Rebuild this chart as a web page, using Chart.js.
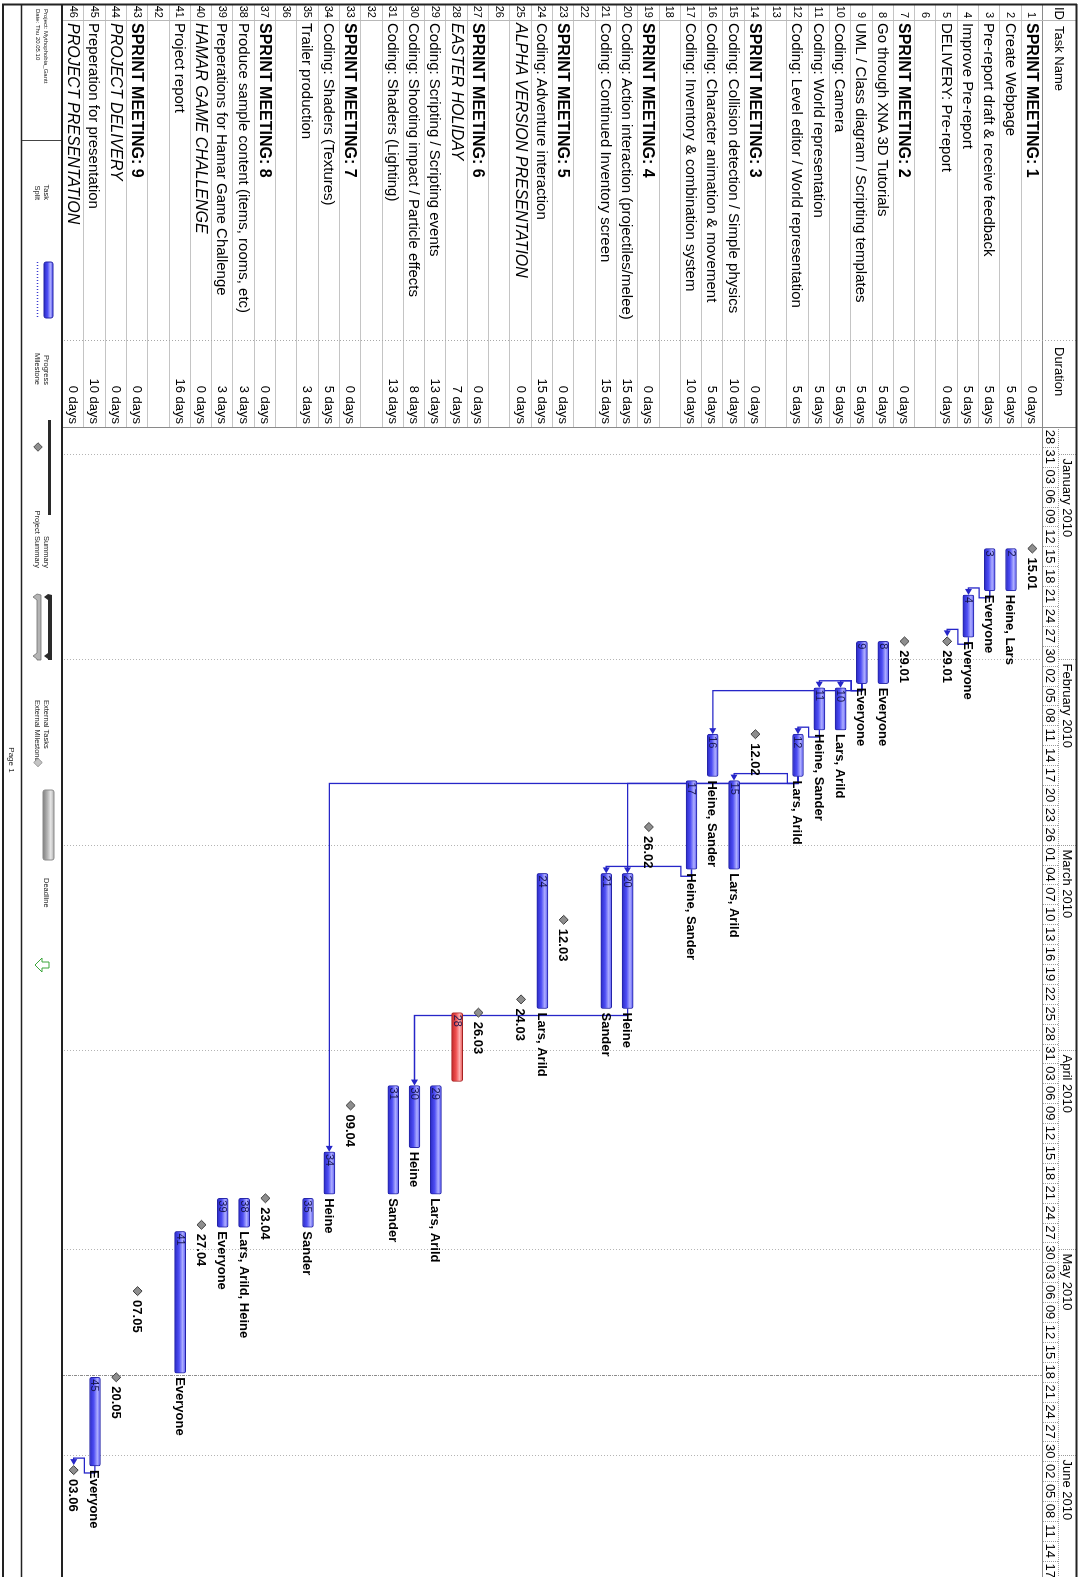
<!DOCTYPE html>
<html>
<head>
<meta charset="utf-8">
<title>Mythophobia_Gantt</title>
<script src="https://cdn.jsdelivr.net/npm/chart.js@4.4.1/dist/chart.umd.min.js"></script>
<style>
  html, body { margin:0; padding:0; background:#fff; }
  body { width:1081px; height:1577px; overflow:hidden; position:relative; }
  /* the printed sheet is landscape; it is turned a quarter clockwise onto the portrait page */
  #sheet { position:absolute; left:0; top:0; width:1577px; height:1081px;
           transform-origin:0 0; transform:translate(1081px,0) rotate(90deg);
           background:#fff; overflow:hidden; }
  #gantt { position:absolute; left:0; top:0; }
  #overlay { position:absolute; left:0; top:0; font-family:"Liberation Sans", Arial, sans-serif; }
</style>
</head>
<body>
<div id="sheet">
  <canvas id="gantt" width="1577" height="1081"></canvas>
  <svg id="overlay" width="1577" height="1081" xmlns="http://www.w3.org/2000/svg"></svg>
</div>
<script>
// ---------------- project data ----------------
const taskIds = [1,2,3,4,5,6,7,8,9,10,11,12,13,14,15,16,17,18,19,20,21,22,23,24,25,26,27,28,29,30,31,32,33,34,35,36,37,38,39,40,41,42,43,44,45,46];

const taskNames = [
  'SPRINT MEETING: 1','Create Webpage','Pre-report draft & receive feedback','Improve Pre-report','DELIVERY: Pre-report','',
  'SPRINT MEETING: 2','Go through XNA 3D Tutorials','UML / Class diagram / Scripting templates','Coding: Camera','Coding: World representation','Coding: Level editor / World representation','',
  'SPRINT MEETING: 3','Coding: Collision detection / Simple physics','Coding: Character animation & movement','Coding: Inventory & combination system','',
  'SPRINT MEETING: 4','Coding: Action interaction (projectiles/melee)','Coding: Continued Inventory screen','',
  'SPRINT MEETING: 5','Coding: Adventure interaction','ALPHA VERSION PRESENTATION','',
  'SPRINT MEETING: 6','EASTER HOLIDAY','Coding: Scripting / Scripting events','Coding: Shooting impact / Particle effects','Coding: Shaders (Lighting)','',
  'SPRINT MEETING: 7','Coding: Shaders (Textures)','Trailer production','',
  'SPRINT MEETING: 8','Produce sample content (items, rooms, etc)','Preperations for Hamar Game Challenge','HAMAR GAME CHALLENGE','Project report','',
  'SPRINT MEETING: 9','PROJECT DELIVERY','Preperation for presentation','PROJECT PRESENTATION'
];

const durationDays = [0,5,5,5,0,null, 0,5,5,5,5,5,null, 0,10,5,10,null, 0,15,15,null, 0,15,0,null,
                      0,7,13,8,13,null, 0,5,3,null, 0,3,3,0,16,null, 0,0,10,0];

const startDates = [
  '2010-01-15','2010-01-15','2010-01-15','2010-01-22','2010-01-29',null,
  '2010-01-29','2010-01-29','2010-01-29','2010-02-05','2010-02-05','2010-02-12',null,
  '2010-02-12','2010-02-19','2010-02-12','2010-02-19',null,
  '2010-02-26','2010-03-05','2010-03-05',null,
  '2010-03-12','2010-03-05','2010-03-24',null,
  '2010-03-26','2010-03-26','2010-04-06','2010-04-06','2010-04-06',null,
  '2010-04-09','2010-04-16','2010-04-23',null,
  '2010-04-23','2010-04-23','2010-04-23','2010-04-27','2010-04-28',null,
  '2010-05-07','2010-05-20','2010-05-20','2010-06-03'
];

const finishDates = [
  '2010-01-15','2010-01-21','2010-01-21','2010-01-28','2010-01-29',null,
  '2010-01-29','2010-02-04','2010-02-04','2010-02-11','2010-02-11','2010-02-18',null,
  '2010-02-12','2010-03-04','2010-02-18','2010-03-04',null,
  '2010-02-26','2010-03-25','2010-03-25',null,
  '2010-03-12','2010-03-25','2010-03-24',null,
  '2010-03-26','2010-04-05','2010-04-22','2010-04-15','2010-04-22',null,
  '2010-04-09','2010-04-22','2010-04-27',null,
  '2010-04-23','2010-04-27','2010-04-27','2010-04-27','2010-05-19',null,
  '2010-05-07','2010-05-20','2010-06-02','2010-06-03'
];

const resourceNames = [
  '','Heine, Lars','Everyone','Everyone','','',
  '','Everyone','Everyone','Lars, Arild','Heine, Sander','Lars, Arild','',
  '','Lars, Arild','Heine, Sander','Heine, Sander','',
  '','Heine','Sander','',
  '','Lars, Arild','','',
  '','','Lars, Arild','Heine','Sander','',
  '','Heine','Sander','',
  '','Lars, Arild, Heine','Everyone','','Everyone','',
  '','','Everyone',''
];

// finish-to-start links [predecessor, successor]
const taskLinks = [[3,4],[4,5],[9,10],[9,11],[9,16],[11,12],[12,15],[12,20],[12,34],[17,21],[20,30],[45,46]];

const holidayTasks = [28];

// timescale
const timescaleStart = '2009-12-28';
const dayTierLabels = ['28','31','03','06','09','12','15','18','21','24','27','30','02','05','08','11','14','17','20','23','26',
  '01','04','07','10','13','16','19','22','25','28','31','03','06','09','12','15','18','21','24','27','30',
  '03','06','09','12','15','18','21','24','27','30','02','05','08','11','14','17'];
const monthLabels = ['January 2010','February 2010','March 2010','April 2010','May 2010','June 2010'];
const monthStarts = ['2010-01-01','2010-02-01','2010-03-01','2010-04-01','2010-05-01','2010-06-01'];
const statusDate = '2010-05-20';

const projectTitle = 'Project: Mythophobia_Gantt';
const printDate = 'Date: Thu 20.05.10';

// ---------------- helpers ----------------
const DAY0 = Date.UTC(+timescaleStart.slice(0,4), +timescaleStart.slice(5,7)-1, +timescaleStart.slice(8,10));
const dayOf = s => (Date.UTC(+s.slice(0,4), +s.slice(5,7)-1, +s.slice(8,10)) - DAY0) / 86400000;
const WORK_START = 8/24, WORK_END = 17/24;
const TIER_STEP = 3;
const PX_PER_DAY = 6.63;
const FONT = '"Liberation Sans", Arial, sans-serif';

const SHEET_W = 1577, SHEET_H = 1081;
const ROWS_TOP = 38, ROWS_BOTTOM = 1018, TIMELINE_LEFT = 427;
const rowH = (ROWS_BOTTOM - ROWS_TOP) / taskIds.length;

const barData = taskIds.map((id, i) =>
  (startDates[i] && durationDays[i] > 0) ? [dayOf(startDates[i]) + WORK_START, dayOf(finishDates[i]) + WORK_END] : null);

const milestoneIdx = taskIds.map((id, i) => i).filter(i => durationDays[i] === 0);
const milestonePoints = milestoneIdx.map(i => ({ x: dayOf(startDates[i]) + WORK_START, y: String(taskIds[i]) }));
const ddmm = s => s.slice(8,10) + '.' + s.slice(5,7);

function barFill(c) {
  const chart = c.chart, ya = chart.scales.y;
  const holiday = c.dataIndex != null && holidayTasks.includes(taskIds[c.dataIndex]);
  if (!ya || c.dataIndex == null || !chart.chartArea) return holiday ? '#e84848' : '#5050f0';
  const yc = ya.getPixelForValue(c.dataIndex);
  const g = chart.ctx.createLinearGradient(0, yc - 5.5, 0, yc + 5.5);
  const stops = holiday
    ? ['#e35555', '#ffb0b0', '#f05050', '#c02a2a']
    : ['#5858f4', '#aeaeff', '#4e4ef4', '#2a2ac4'];
  g.addColorStop(0, stops[0]); g.addColorStop(0.28, stops[1]);
  g.addColorStop(0.6, stops[2]); g.addColorStop(1, stops[3]);
  return g;
}

// ---------------- drawing plugin: timescale, gridlines, links, labels ----------------
const ganttDecor = {
  id: 'ganttDecor',
  beforeDatasetsDraw(chart) {
    const ctx = chart.ctx, xs = chart.scales.x, ca = chart.chartArea;
    const L = TIMELINE_LEFT, R = SHEET_W;
    ctx.save();
    // month gridlines through the task area
    ctx.strokeStyle = '#b4b4b4'; ctx.lineWidth = 1; ctx.setLineDash([1, 2]);
    monthStarts.forEach(m => {
      const px = Math.round(xs.getPixelForValue(dayOf(m))) + 0.5;
      ctx.beginPath(); ctx.moveTo(px, ca.top); ctx.lineTo(px, ca.bottom); ctx.stroke();
    });
    // status date line
    ctx.strokeStyle = '#8c8c8c'; ctx.setLineDash([3, 1, 1, 1]);
    const sp = Math.round(xs.getPixelForValue(dayOf(statusDate))) + 0.5;
    ctx.beginPath(); ctx.moveTo(sp, ca.top); ctx.lineTo(sp, ca.bottom); ctx.stroke();

    // two-tier timescale header
    ctx.setLineDash([1, 1]); ctx.strokeStyle = '#9a9a9a';
    ctx.beginPath(); ctx.moveTo(L, 22.5); ctx.lineTo(R, 22.5); ctx.stroke();
    ctx.fillStyle = '#000'; ctx.font = '13px ' + FONT; ctx.textBaseline = 'middle';
    ctx.textAlign = 'left';
    monthStarts.forEach((m, i) => {
      const px = Math.round(xs.getPixelForValue(dayOf(m))) + 0.5;
      ctx.beginPath(); ctx.moveTo(px, 5); ctx.lineTo(px, 22); ctx.stroke();
      ctx.fillText(monthLabels[i], px + 4, 14);
    });
    ctx.textAlign = 'center';
    dayTierLabels.forEach((lab, k) => {
      const p0 = Math.round(xs.getPixelForValue(k * TIER_STEP)) + 0.5;
      ctx.beginPath(); ctx.moveTo(p0, 23); ctx.lineTo(p0, ROWS_TOP); ctx.stroke();
      ctx.fillText(lab, xs.getPixelForValue(k * TIER_STEP + TIER_STEP / 2), 31);
    });
    ctx.setLineDash([]);
    ctx.strokeStyle = '#8a8a8a';
    ctx.beginPath(); ctx.moveTo(L, ROWS_TOP + 0.5); ctx.lineTo(R, ROWS_TOP + 0.5); ctx.stroke();

    // dependency links
    const bars = chart.getDatasetMeta(0).data, ms = chart.getDatasetMeta(1).data;
    const endOf = i => {
      const j = milestoneIdx.indexOf(i);
      if (j >= 0) return { x: ms[j].x + 5, y: ms[j].y };
      return { x: Math.max(bars[i].x, bars[i].base), y: bars[i].y };
    };
    const startOf = i => {
      const j = milestoneIdx.indexOf(i);
      if (j >= 0) return { x: ms[j].x - 5, y: ms[j].y };
      return { x: Math.min(bars[i].x, bars[i].base), y: bars[i].y };
    };
    ctx.strokeStyle = '#2626c8'; ctx.fillStyle = '#2626c8'; ctx.lineWidth = 1.3;
    const ext = 7;
    taskLinks.forEach(([a, b]) => {
      const ia = taskIds.indexOf(a), ib = taskIds.indexOf(b);
      const p = endOf(ia), s = startOf(ib);
      ctx.beginPath();
      ctx.moveTo(p.x, p.y);
      if (s.x - p.x >= 2 * ext) {
        ctx.lineTo(p.x + ext, p.y); ctx.lineTo(p.x + ext, s.y); ctx.lineTo(s.x - 5, s.y);
      } else {
        const mid = p.y + rowH / 2;
        ctx.lineTo(p.x + ext, p.y); ctx.lineTo(p.x + ext, mid);
        ctx.lineTo(s.x - ext, mid); ctx.lineTo(s.x - ext, s.y); ctx.lineTo(s.x - 5, s.y);
      }
      ctx.stroke();
      ctx.beginPath(); ctx.moveTo(s.x, s.y); ctx.lineTo(s.x - 6, s.y - 3.5); ctx.lineTo(s.x - 6, s.y + 3.5); ctx.closePath(); ctx.fill();
    });
    ctx.restore();
  },
  afterDatasetsDraw(chart) {
    const ctx = chart.ctx;
    const bars = chart.getDatasetMeta(0).data, ms = chart.getDatasetMeta(1).data;
    ctx.save();
    ctx.textBaseline = 'middle'; ctx.textAlign = 'left';
    bars.forEach((el, i) => {
      if (!barData[i]) return;
      const l = Math.min(el.x, el.base), r = Math.max(el.x, el.base);
      ctx.fillStyle = '#161650'; ctx.font = '11px ' + FONT;
      ctx.fillText(String(taskIds[i]), l + 2, el.y + 0.5);
      if (resourceNames[i]) {
        ctx.fillStyle = '#000'; ctx.font = 'bold 13px ' + FONT;
        ctx.fillText(resourceNames[i], r + 4, el.y + 1);
      }
    });
    ms.forEach((el, j) => {
      ctx.fillStyle = '#000'; ctx.font = 'bold 13px ' + FONT;
      ctx.fillText(ddmm(startDates[milestoneIdx[j]]), el.x + 9, el.y + 1);
    });
    ctx.restore();
  }
};

const chart = new Chart(document.getElementById('gantt'), {
  type: 'bar',
  data: {
    labels: taskIds.map(String),
    datasets: [
      { type: 'bar', indexAxis: 'y', data: barData, xAxisID: 'x', yAxisID: 'y', clip: false,
        barThickness: 11, borderWidth: 1, borderRadius: 2, borderSkipped: false,
        backgroundColor: barFill,
        borderColor: c => holidayTasks.includes(taskIds[c.dataIndex]) ? '#a82222' : '#2424a8' },
      { type: 'scatter', data: milestonePoints, xAxisID: 'x', yAxisID: 'y', clip: false,
        pointStyle: 'rectRot', pointRadius: 4.5, pointHoverRadius: 4.5,
        pointBackgroundColor: '#8e8e8e', pointBorderColor: '#3c3c3c', pointBorderWidth: 1 }
    ]
  },
  options: {
    indexAxis: 'y',
    responsive: false, animation: false,
    layout: { autoPadding: false, padding: { left: TIMELINE_LEFT, right: 0, top: ROWS_TOP, bottom: SHEET_H - ROWS_BOTTOM } },
    plugins: { legend: { display: false }, tooltip: { enabled: false } },
    scales: {
      x: { type: 'linear', min: 0, max: (SHEET_W - TIMELINE_LEFT) / PX_PER_DAY, offset: false, bounds: 'data', display: false },
      y: { type: 'category', offset: true, display: false }
    }
  },
  plugins: [ganttDecor]
});

// pin the day range to the plot area so that day 0 sits on the timeline edge
{
  const ca = chart.chartArea;
  chart.options.scales.x.min = (ca.left - TIMELINE_LEFT) / PX_PER_DAY;
  chart.options.scales.x.max = (ca.right - TIMELINE_LEFT) / PX_PER_DAY;
  chart.update();
}

// ---------------- task table, frame and legend ----------------
const NS = 'http://www.w3.org/2000/svg';
const svg = document.getElementById('overlay');
function add(tag, attrs, text) {
  const e = document.createElementNS(NS, tag);
  for (const k in attrs) e.setAttribute(k, attrs[k]);
  if (text != null) e.textContent = text;
  svg.appendChild(e);
  return e;
}
function hline(x1, x2, y, stroke, w, dash) {
  add('line', { x1, x2, y1: y, y2: y, stroke, 'stroke-width': w || 1, 'stroke-dasharray': dash || 'none' });
}
function vline(x, y1, y2, stroke, w, dash) {
  add('line', { x1: x, x2: x, y1, y2, stroke, 'stroke-width': w || 1, 'stroke-dasharray': dash || 'none' });
}

// header
add('text', { x: 7, y: 21, 'dominant-baseline': 'central', 'font-size': 13 }, 'ID');
add('text', { x: 26, y: 21, 'dominant-baseline': 'central', 'font-size': 13 }, 'Task Name');
add('text', { x: 347, y: 21, 'dominant-baseline': 'central', 'font-size': 13 }, 'Duration');

// rows
taskIds.forEach((id, i) => {
  const yc = ROWS_TOP + (i + 0.5) * rowH;
  add('text', { x: 18, y: yc, 'text-anchor': 'end', 'dominant-baseline': 'central', 'font-size': 11 }, id);
  const name = taskNames[i];
  if (name) {
    const emphasised = name === name.toUpperCase();
    const sprint = name.startsWith('SPRINT');
    add('text', { x: 23, y: yc, 'dominant-baseline': 'central',
      'font-size': emphasised ? 16 : 15,
      'font-weight': sprint ? 'bold' : 'normal',
      'font-style': emphasised && !sprint ? 'italic' : 'normal' }, name);
  }
  if (durationDays[i] != null) {
    add('text', { x: 424, y: yc, 'text-anchor': 'end', 'dominant-baseline': 'central', 'font-size': 13 }, durationDays[i] + ' days');
  }
  hline(5, TIMELINE_LEFT, Math.round(ROWS_TOP + (i + 1) * rowH) + 0.5, '#c4c4c4');
});
hline(5, TIMELINE_LEFT, ROWS_TOP + 0.5, '#8a8a8a');
vline(20.5, 5, ROWS_BOTTOM, '#b8b8b8');
vline(340.5, 5, ROWS_BOTTOM, '#a8a8a8', 1, '1 2');
vline(TIMELINE_LEFT + 0.5, 5, ROWS_BOTTOM, '#8a8a8a');

// sheet frame
hline(4, SHEET_W, 4.5, '#222', 2);
vline(4.5, 4, 1079, '#222', 2);
hline(4, SHEET_W, ROWS_BOTTOM + 1, '#222', 2);
hline(4, SHEET_W, 1059.5, '#222', 1.5);
hline(4, SHEET_W, 1078, '#222', 2);

// legend block
const lf = { 'font-size': 7.5, fill: '#222' };
add('text', { x: 9, y: 1037, 'font-size': 6, fill: '#222' }, projectTitle);
add('text', { x: 9, y: 1045, 'font-size': 6, fill: '#222' }, printDate);
vline(140.5, ROWS_BOTTOM + 2, 1059, '#444');
add('text', Object.assign({ x: 200, y: 1037, 'text-anchor': 'end' }, lf), 'Task');
add('text', Object.assign({ x: 200, y: 1046, 'text-anchor': 'end' }, lf), 'Split');
const defs = add('defs', {});
defs.innerHTML =
  '<linearGradient id="gBlue" x1="0" y1="0" x2="0" y2="1"><stop offset="0" stop-color="#5858f4"/><stop offset="0.3" stop-color="#aeaeff"/><stop offset="0.6" stop-color="#4e4ef4"/><stop offset="1" stop-color="#2a2ac4"/></linearGradient>' +
  '<linearGradient id="gGrey" x1="0" y1="0" x2="0" y2="1"><stop offset="0" stop-color="#b0b0b0"/><stop offset="0.3" stop-color="#e6e6e6"/><stop offset="0.6" stop-color="#b4b4b4"/><stop offset="1" stop-color="#808080"/></linearGradient>';
add('rect', { x: 262, y: 1028, width: 56, height: 9, rx: 2, fill: 'url(#gBlue)', stroke: '#2424a8', 'stroke-width': 1 });
hline(262, 318, 1043.5, '#3a3ad0', 1.5, '1 2');
add('text', Object.assign({ x: 385, y: 1037, 'text-anchor': 'end' }, lf), 'Progress');
add('text', Object.assign({ x: 385, y: 1046, 'text-anchor': 'end' }, lf), 'Milestone');
add('rect', { x: 420, y: 1030, width: 95, height: 3, fill: '#2a2a2a' });
add('rect', { x: 444, y: 1040, width: 6, height: 6, fill: '#8e8e8e', stroke: '#3c3c3c', 'stroke-width': 0.8, transform: 'rotate(45 447 1043)' });
add('text', Object.assign({ x: 568, y: 1037, 'text-anchor': 'end' }, lf), 'Summary');
add('text', Object.assign({ x: 568, y: 1046, 'text-anchor': 'end' }, lf), 'Project Summary');
add('path', { d: 'M595 1029 h65 v4 h-1 l-3 4 l-3 -4 h-53 l-3 4 l-3 -4 z', fill: '#2a2a2a' });
add('path', { d: 'M595 1040 h65 v4 h-1 l-3 4 l-3 -4 h-53 l-3 4 l-3 -4 z', fill: '#b4b4b4', stroke: '#707070', 'stroke-width': 0.8 });
add('text', Object.assign({ x: 700, y: 1037 }, lf), 'External Tasks');
add('text', Object.assign({ x: 700, y: 1046 }, lf), 'External Milestone');
add('rect', { x: 759.5, y: 1040, width: 6, height: 6, fill: '#c4c4c4', stroke: '#8a8a8a', 'stroke-width': 0.8, transform: 'rotate(45 762.5 1043)' });
add('rect', { x: 790, y: 1027, width: 70, height: 11, rx: 2, fill: 'url(#gGrey)', stroke: '#8a8a8a', 'stroke-width': 1 });
add('text', Object.assign({ x: 878, y: 1037 }, lf), 'Deadline');
add('path', { d: 'M962 1032 h6 v7 h4 l-7 7 l-7 -7 h4 z', fill: 'none', stroke: '#3aa53a', 'stroke-width': 1 });
add('text', { x: 760, y: 1072, 'text-anchor': 'middle', 'font-size': 8, fill: '#222' }, 'Page 1');
</script>
</body>
</html>
